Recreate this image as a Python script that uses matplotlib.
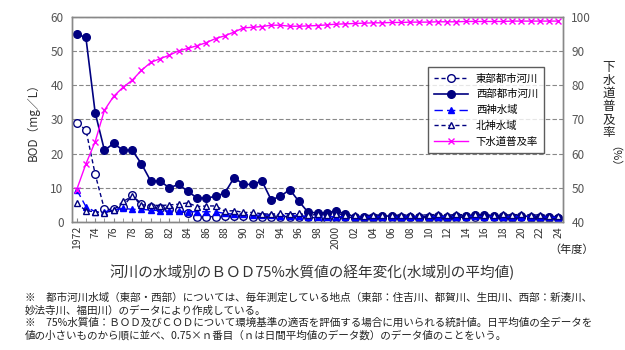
import matplotlib
matplotlib.use("Agg")
import matplotlib.pyplot as plt
import numpy as np
from matplotlib.ticker import MultipleLocator

plt.rcParams['font.family'] = ['Noto Sans CJK JP', 'DejaVu Sans']

# years 1972 .. 2024
years = list(range(1972, 2025))

# 東部都市河川 (BOD mg/L)
east_urban = [29, 27, 14, 3.7, 3.7, 4.5, 7.8, 5.3, 4.5, 4.0, 3.8, 3.5, 2.5, 1.6, 1.5, 1.6, 1.8, 1.8,
              1.8, 1.6, 1.4, 1.6, 1.5, 1.6, 1.5, 1.6, 1.0, 1.0, 1.2, 1.5, 1.2, 1.2, 1.3, 1.3, 1.2, 1.3,
              1.4, 1.2, 1.3, 1.3, 1.2, 1.3, 1.4, 1.5, 1.6, 1.4, 1.3, 1.3, 1.4, 1.3, 1.2, 1.3, 1.1]
# 西部都市河川
west_urban = [55, 54, 32, 21, 23, 21, 21, 17, 12, 12, 10, 11, 9, 7, 7, 7.5, 8.5, 13,
              11, 11, 12, 6.5, 7.5, 9.5, 6, 2.8, 2.7, 2.6, 3.3, 2.3, 1.6, 1.4, 1.6, 1.8, 1.7, 1.6,
              1.6, 1.5, 1.6, 1.8, 1.6, 1.7, 1.8, 2.0, 2.0, 1.8, 1.7, 1.6, 1.8, 1.6, 1.5, 1.6, 1.3]
# 西神水域
west_kobe = [9.5, 4.5, 3.0, 3.0, 3.5, 4.0, 3.7, 3.7, 3.5, 3.3, 3.2, 3.2, 3.0, 3.0, 3.0, 3.0, 2.5, 2.3,
             2.2, 2.0, 2.0, 2.0, 1.9, 1.8, 1.8, 1.6, 1.5, 1.5, 1.6, 1.5, 1.5, 1.4, 1.5, 1.5, 1.5, 1.4,
             1.5, 1.5, 1.5, 1.6, 1.5, 1.6, 1.6, 1.7, 1.6, 1.6, 1.5, 1.5, 1.6, 1.5, 1.5, 1.4, 1.3]
# 北神水域
north_kobe = [5.5, 3.3, 3.0, 2.5, 3.5, 6.0, 7.5, 5.0, 5.0, 4.8, 5.0, 5.2, 5.6, 4.5, 4.7, 4.7, 3.2, 3.3,
              2.8, 2.8, 2.4, 2.3, 2.5, 2.4, 2.5, 2.0, 2.2, 2.0, 2.4, 2.0, 2.0, 1.9, 2.0, 2.1, 2.0, 2.0,
              2.1, 2.0, 2.1, 2.2, 2.0, 2.2, 2.1, 2.2, 2.0, 2.1, 2.2, 2.0, 2.3, 2.0, 2.1, 1.9, 1.8]
# 下水道普及率 (%)
sewer_rate = [49.4, 57, 63.5, 72.7, 76.8, 79.4, 81.5, 84.4, 86.7, 87.8, 88.8, 90.1, 90.8, 91.6, 92.5,
              93.7, 94.5, 95.6, 96.8, 97.0, 97.2, 97.6, 97.6, 97.3, 97.3, 97.4, 97.5, 97.7, 97.9, 98.0,
              98.1, 98.2, 98.3, 98.3, 98.4, 98.4, 98.5, 98.5, 98.5, 98.6, 98.6, 98.6, 98.7, 98.7, 98.7,
              98.7, 98.7, 98.8, 98.8, 98.8, 98.8, 98.8, 98.8]

tick_years = list(range(1972, 2025, 2))
tick_labels = ["1972"] + ["%02d" % (y % 100) for y in tick_years[1:]]
tick_labels[tick_years.index(2000)] = "2000"

title = "河川の水域別のＢＯＤ75%水質値の経年変化(水域別の平均値)"
notes = ["※　都市河川水域（東部・西部）については、毎年測定している地点（東部：住吉川、都賀川、生田川、西部：新湊川、",
         "妙法寺川、福田川）のデータにより作成している。",
         "※　75%水質値：ＢＯＤ及びＣＯＤについて環境基準の適否を評価する場合に用いられる統計値。日平均値の全データを",
         "値の小さいものから順に並べ、0.75×ｎ番目（ｎは日間平均値のデータ数）のデータ値のことをいう。"]

navy = "#000080"
blue = "#0000ff"
magenta = "#ff00ff"
gray = "#888888"

fig = plt.figure(figsize=(6.25, 3.5), dpi=100)
ax = fig.add_axes([72/625, 1-222/350, 491/625, 205/350])
ax2 = ax.twinx()

l1, = ax.plot(years, east_urban, color=navy, linestyle=(0, (3, 2)), linewidth=1,
              marker='o', markersize=5.5, markerfacecolor='white', markeredgecolor=navy, label="東部都市河川")
l2, = ax.plot(years, west_urban, color=navy, linestyle='-', linewidth=1.2,
              marker='o', markersize=5.5, markerfacecolor=navy, markeredgecolor=navy, label="西部都市河川")
l3, = ax.plot(years, west_kobe, color=blue, linestyle=(0, (6, 3)), linewidth=1,
              marker='^', markersize=4.5, markerfacecolor=blue, markeredgecolor=blue, label="西神水域")
l4, = ax.plot(years, north_kobe, color=navy, linestyle=(0, (3, 2)), linewidth=1,
              marker='^', markersize=5, markerfacecolor='white', markeredgecolor=navy, label="北神水域")
l5, = ax2.plot(years, sewer_rate, color=magenta, linewidth=1, marker='x', markersize=5,
               markeredgewidth=1, label="下水道普及率")

ax.set_xlim(1971.5, 2024.5)
ax.set_ylim(0, 60)
ax2.set_ylim(40, 100)
ax.yaxis.set_major_locator(MultipleLocator(10))
ax2.yaxis.set_major_locator(MultipleLocator(10))

ax.set_xticks(tick_years)
ax.set_xticklabels(tick_labels, rotation=90, fontsize=7.5, color="#333333")
ax.xaxis.set_minor_locator(MultipleLocator(1))
ax.tick_params(axis='x', which='both', direction='in', length=3, color=gray, pad=3)
ax.tick_params(axis='y', length=0, labelsize=8.5, labelcolor="#555555", pad=6)
ax2.tick_params(axis='y', length=0, labelsize=8.5, labelcolor="#555555", pad=6)

ax.grid(axis='y', color=gray, linestyle=(0, (4, 2)), linewidth=0.8)
ax.set_axisbelow(True)
for sp in list(ax.spines.values()) + list(ax2.spines.values()):
    sp.set_color(gray)
    sp.set_linewidth(1)

ax.set_ylabel("BOD（mg／L）", fontsize=8.5, color="#333333", labelpad=8)

# right label: stacked characters + rotated unit
fig.text(609/625, 1-100/350, "\n".join("下水道普及率"), fontsize=9, ha='center', va='center',
         linespacing=1.0, color="#222222")
fig.text(609/625, 1-162/350, "（%）", fontsize=8, ha='center', va='center', rotation=270, color="#222222")

leg = ax2.legend(handles=[l1, l2, l3, l4, l5], loc='upper left', bbox_to_anchor=(0.725, 0.755),
                 borderaxespad=0, fontsize=7.5, frameon=True, fancybox=False, handlelength=3.2,
                 labelspacing=0.55, borderpad=0.6)
leg.get_frame().set_edgecolor("#333333")
leg.get_frame().set_linewidth(1)

fig.text(572/625, 1-250/350, "（年度）", fontsize=8, ha='center', va='center', color="#222222")
fig.text(312/625, 1-272/350, title, fontsize=10.5, ha='center', va='center', color="#333333")
for i, line in enumerate(notes):
    fig.text(25/625, 1-(298 + i*12.5)/350, line, fontsize=7.6, ha='left', va='center', color="#222222")

fig.savefig("out.png", dpi=100)
